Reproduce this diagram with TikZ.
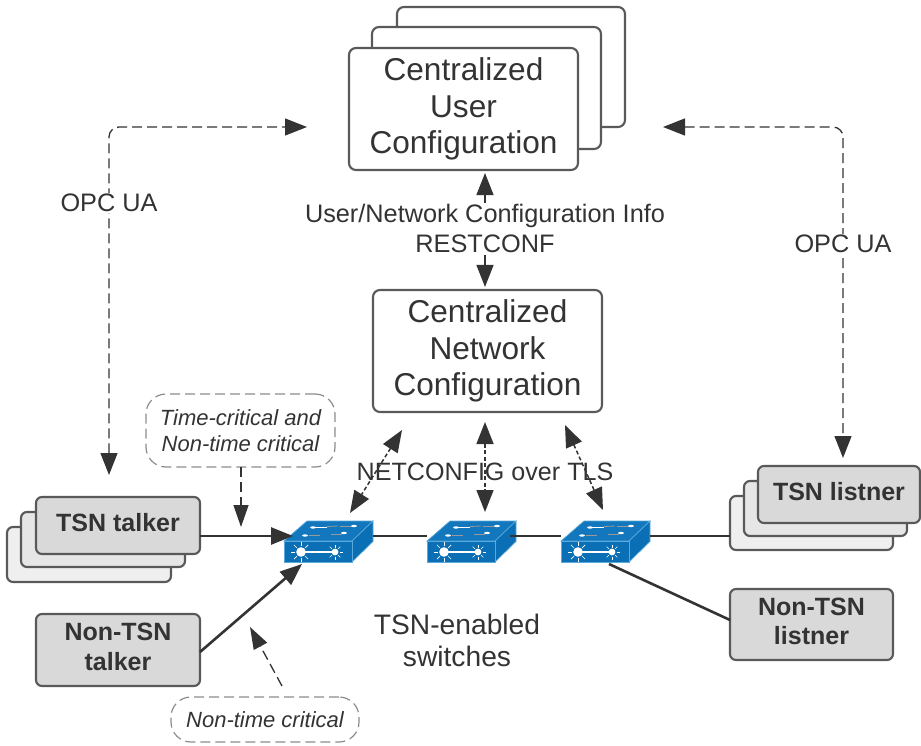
\documentclass[tikz,border=0pt]{standalone}
\usepackage{fontspec}
\setmainfont{Liberation Sans}
\usetikzlibrary{arrows.meta}
\definecolor{ink}{HTML}{333333}
\definecolor{edge}{HTML}{595959}
\definecolor{fillA}{HTML}{D9D9D9}
\definecolor{fillB}{HTML}{E6E6E6}
\definecolor{fillC}{HTML}{EFEFEF}
\definecolor{swfill}{HTML}{0B6FB5}
\definecolor{swtop}{HTML}{1277BC}
\definecolor{swline}{HTML}{59A9DD}
\tikzset{
  bigbox/.style={draw=edge,line width=2.1pt,rounded corners=7pt,fill=white,inner sep=0pt,text=ink,align=center,font=\fontsize{31.6}{36.5}\selectfont},
  dev/.style={draw=edge,line width=2.1pt,rounded corners=6pt,inner sep=0pt,text=ink,align=center,text depth=6pt,font=\bfseries\fontsize{25}{29.5}\selectfont},
  bubble/.style={draw=black!45,line width=1.2pt,dash pattern=on 10pt off 5pt,rounded corners=20pt,inner sep=0pt,text=ink,align=center,font=\itshape\fontsize{22}{26}\selectfont},
  lbl/.style={text=ink,inner sep=1pt,align=center},
  solidc/.style={draw=ink,line width=2.6pt},
  dashc/.style={draw=ink,line width=1.3pt,dash pattern=on 10pt off 5pt,rounded corners=10pt},
  dotc/.style={draw=ink,line width=1.5pt,dash pattern=on 4pt off 2.5pt},
  swfront/.style={draw=swline,line width=.7pt,fill=swfill,inner sep=0pt,minimum width=68pt,minimum height=21pt},
}
\newcommand{\switchat}[2]{%
  \begin{scope}[shift={(#2,0)}]
    \fill[swtop,draw=swline,line width=.7pt] (0,541) -- (23,521) -- (89,521) -- (68,541) -- cycle;
    \fill[swfill,draw=swline,line width=.7pt] (68,541) -- (89,521) -- (89,541.5) -- (68,562) -- cycle;
    \node[swfront] (#1) at (34,551.5) {};
    \draw[white,line width=1.4pt] (17,552) -- (51,552);
    \fill[white] (17,552) circle (4.8pt) (51,552) circle (3.4pt);
    \foreach \a in {0,45,...,315} {
      \draw[white,line width=.7pt] (17,552) ++(\a:6pt) -- ++(\a:4pt);
      \draw[white,line width=.6pt] (51,552) ++(\a:4.5pt) -- ++(\a:3pt);
    }
    \draw[white,line width=1pt] (31,527) -- (43,527);
    \fill[white] (29,527.5) ellipse (3pt and 1.2pt);
    \draw[black!40,line width=.8pt] (43,526.5) -- (54,526);
    \draw[black!40,line width=.8pt] (56,526) -- (68,526);
    \fill[white] (70,526) ellipse (3pt and 1.2pt);
    \draw[black!40,line width=.8pt] (25,535) -- (36,535);
    \fill[white] (21,535.5) ellipse (3pt and 1.2pt);
    \draw[black!40,line width=.8pt] (47,534) -- (58,534);
    \fill[white] (60,533) ellipse (3pt and 1.2pt);
  \end{scope}%
}
\begin{document}
\begin{tikzpicture}[x=1pt,y=-1pt]
\useasboundingbox (0,0) rectangle (921,746);
% coordinates for free ends
\coordinate (opcLa) at (109,475);
\coordinate (opcLb) at (307,127);
\coordinate (opcRa) at (663,127);
\coordinate (opcRb) at (843,458);
\coordinate (ncA) at (402,430);
\coordinate (ncB) at (350,513);
\coordinate (ncC) at (485,422);
\coordinate (ncD) at (485,512);
\coordinate (ncE) at (565,425);
\coordinate (ncF) at (603,510);
\coordinate (tcA) at (241,467);
\coordinate (tcB) at (241,527);
\coordinate (ntA) at (282,686);
\coordinate (ntB) at (250,627);
\coordinate (tlkOut) at (200,536);
\coordinate (tlkIn) at (293,536);
\coordinate (ntlkOut) at (200,652);
\coordinate (ntlkIn) at (302,564);
\coordinate (lsnIn) at (730,536);
\coordinate (nlsnIn) at (730,620);
% stacks
\node[bigbox,minimum width=228pt,minimum height=120pt] (cucC) at (511,67) {};
\node[bigbox,minimum width=229pt,minimum height=122pt] (cucB) at (486.5,88) {};
\node[bigbox,minimum width=229pt,minimum height=122pt] (cuc) at (463.5,109) {Centralized\\User\\Configuration};
\node[bigbox,minimum width=229pt,minimum height=122pt] (cnc) at (487.5,351) {Centralized\\Network\\Configuration};
\node[dev,fill=fillC,minimum width=164pt,minimum height=55pt] (tC) at (89,554.5) {};
\node[dev,fill=fillB,minimum width=164pt,minimum height=55pt] (tB) at (103,539.5) {};
\node[dev,fill=fillA,minimum width=164pt,minimum height=57pt] (tlk) at (118,525.5) {TSN talker};
\node[dev,fill=fillA,minimum width=164pt,minimum height=72pt] (ntlk) at (118,650) {Non-TSN\\talker};
\node[dev,fill=fillC,minimum width=163pt,minimum height=54pt] (lC) at (811.5,523) {};
\node[dev,fill=fillB,minimum width=163pt,minimum height=55pt] (lB) at (825.5,508.5) {};
\node[dev,fill=fillA,minimum width=162pt,minimum height=57pt] (lsn) at (839,494.5) {TSN listner};
\node[dev,fill=fillA,minimum width=163pt,minimum height=71pt] (nlsn) at (811.5,624.5) {Non-TSN\\listner};
% bubbles
\node[bubble,minimum width=189pt,minimum height=73pt] (bub1) at (240.5,430.5) {Time-critical and\\Non-time critical};
\node[bubble,minimum width=188pt,minimum height=45pt] (bub2) at (265,719.5) {Non-time critical};
% switches
\switchat{swa}{284}
\switchat{swb}{427}
\switchat{swc}{561}
% solid links
\draw[solidc,-{Triangle[length=22pt,width=17pt]}] (tlkOut) -- (tlkIn);
\draw[solidc,-{Triangle[length=22pt,width=17pt]}] (ntlkOut) -- (ntlkIn);
\draw[solidc] (373,536) -- (swb.west |- 0,536);
\draw[solidc] (510,536) -- (swc.west |- 0,536);
\draw[solidc] (650,536) -- (lsnIn);
\draw[solidc] (609,564) -- (nlsnIn);
% dashed links
\draw[dashc,{Triangle[length=22pt,width=17pt]}-{Triangle[length=22pt,width=17pt]}] (opcLa) -- (opcLa |- opcLb) -- (opcLb);
\draw[dashc,{Triangle[length=22pt,width=17pt]}-{Triangle[length=22pt,width=17pt]}] (opcRa) -- (opcRb |- opcRa) -- (opcRb);
\draw[dashc,-{Triangle[length=22pt,width=15pt]}] (tcA) -- (tcB);
\draw[dashc,-{Triangle[length=22pt,width=15pt]}] (ntA) -- (ntB);
\draw[dashc,{Triangle[length=22pt,width=17pt]}-{Triangle[length=22pt,width=17pt]}] ([xshift=21.5pt,yshift=-2pt]cuc.south) -- ([xshift=-2.5pt,yshift=2pt]cnc.north);
% dotted links
\draw[dotc,{Triangle[length=22pt,width=17pt]}-{Triangle[length=22pt,width=17pt]}] (ncA) -- (ncB);
\draw[dotc,{Triangle[length=22pt,width=17pt]}-{Triangle[length=22pt,width=17pt]}] (ncC) -- (ncD);
\draw[dotc,{Triangle[length=22pt,width=17pt]}-{Triangle[length=22pt,width=17pt]}] (ncE) -- (ncF);
% labels
\node[lbl,fill=white,font=\fontsize{25.3}{30}\selectfont] (opcl) at (109,203) {OPC UA};
\node[lbl,fill=white,font=\fontsize{25.3}{30}\selectfont] (opcr) at (843,244) {OPC UA};
\node[lbl,fill=white,font=\fontsize{25.3}{30}\selectfont] (cfg) at (485,228) {User/Network Configuration Info\\RESTCONF};
\node[lbl,font=\fontsize{25.1}{30}\selectfont] (ncf) at (485,472) {NETCONFIG over TLS};
\node[lbl,font=\fontsize{28.2}{32}\selectfont] (tsw) at (457,640) {TSN-enabled\\switches};
\end{tikzpicture}
\end{document}
